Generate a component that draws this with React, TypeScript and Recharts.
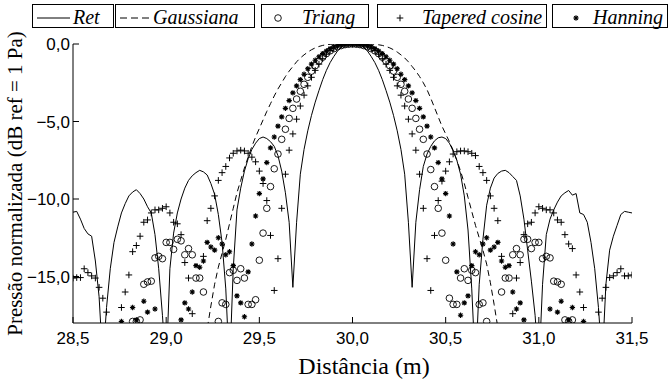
import React from 'react';
import { ComposedChart, Line, Scatter, XAxis, YAxis } from 'recharts';

// distância (m), passo de 0,02 m
const distance = [
  28.5, 28.52, 28.54, 28.56, 28.58, 28.6, 28.62, 28.64, 28.66, 28.68,
  28.7, 28.72, 28.74, 28.76, 28.78, 28.8, 28.82, 28.84, 28.86, 28.88,
  28.9, 28.92, 28.94, 28.96, 28.98, 29.0, 29.02, 29.04, 29.06, 29.08,
  29.1, 29.12, 29.14, 29.16, 29.18, 29.2, 29.22, 29.24, 29.26, 29.28,
  29.3, 29.32, 29.34, 29.36, 29.38, 29.4, 29.42, 29.44, 29.46, 29.48,
  29.5, 29.52, 29.54, 29.56, 29.58, 29.6, 29.62, 29.64, 29.66, 29.68,
  29.7, 29.72, 29.74, 29.76, 29.78, 29.8, 29.82, 29.84, 29.86, 29.88,
  29.9, 29.92, 29.94, 29.96, 29.98, 30.0, 30.02, 30.04, 30.06, 30.08,
  30.1, 30.12, 30.14, 30.16, 30.18, 30.2, 30.22, 30.24, 30.26, 30.28,
  30.3, 30.32, 30.34, 30.36, 30.38, 30.4, 30.42, 30.44, 30.46, 30.48,
  30.5, 30.52, 30.54, 30.56, 30.58, 30.6, 30.62, 30.64, 30.66, 30.68,
  30.7, 30.72, 30.74, 30.76, 30.78, 30.8, 30.82, 30.84, 30.86, 30.88,
  30.9, 30.92, 30.94, 30.96, 30.98, 31.0, 31.02, 31.04, 31.06, 31.08,
  31.1, 31.12, 31.14, 31.16, 31.18, 31.2, 31.22, 31.24, 31.26, 31.28,
  31.3, 31.32, 31.34, 31.36, 31.38, 31.4, 31.42, 31.44, 31.46, 31.48,
  31.5,
];

// pressão normalizada (dB) por janela
const ret = [
  -10.85, -10.8, -11.3, -11.9, -12.25, -12.4, -14.0, -16.3, -20.5, -17.0,
  -14.5, -12.8, -11.8, -10.9, -10.3, -9.8, -9.55, -9.4, -9.65, -10.0,
  -10.5, -10.9, -12.3, -14.5, -17.5, -21.0, -14.5, -12.2, -10.9, -10.0,
  -9.3, -8.8, -8.5, -8.3, -8.15, -8.25, -8.45, -9.0, -9.7, -11.0,
  -12.8, -15.8, -21.0, -14.5, -10.7, -9.3, -8.2, -7.4, -6.8, -6.4,
  -6.1, -6.0, -6.1, -6.3, -6.6, -7.2, -8.2, -9.6, -11.5, -15.7,
  -11.5, -8.4, -6.8, -5.6, -4.6, -3.75, -3.0, -2.3, -1.7, -1.2,
  -0.8, -0.45, -0.2, -0.08, -0.02, 0, -0.02, -0.08, -0.2, -0.45,
  -0.8, -1.2, -1.7, -2.3, -3.0, -3.75, -4.6, -5.6, -6.8, -8.4,
  -11.5, -15.7, -11.5, -9.4, -7.9, -7.1, -6.6, -6.25, -6.05, -6.0,
  -6.1, -6.4, -6.9, -7.5, -8.4, -9.8, -12.0, -15.8, -21.0, -15.5,
  -12.6, -10.4, -9.3, -8.65, -8.35, -8.2, -8.15, -8.3, -8.55, -8.8,
  -9.8, -11.3, -13.3, -15.3, -17.5, -21.0, -15.5, -12.3, -11.3, -10.7,
  -10.2, -9.8, -9.6, -9.45, -9.75, -9.65, -10.9, -11.0, -11.5, -12.8,
  -14.5, -17.0, -20.5, -15.5, -13.3, -12.4, -11.7, -11.0, -10.8, -10.85,
  -10.9,
];

const gaussiana = [
  null, null, null, null, null, null, null, null, null, null,
  null, null, null, null, null, null, null, null, null, null,
  null, null, null, null, null, null, null, null, null, null,
  null, null, null, null, -21.5, -19.8, -18.4, -16.9, -15.5, -14.4,
  -13.5, -12.6, -11.6, -10.6, -9.6, -8.8, -8.0, -7.3, -6.6, -6.0,
  -5.45, -4.9, -4.35, -3.85, -3.35, -2.9, -2.5, -2.1, -1.75, -1.45,
  -1.15, -0.9, -0.7, -0.52, -0.37, -0.25, -0.16, -0.09, -0.05, -0.02,
  -0.01, 0, 0, 0, 0, 0, 0, 0, 0, 0,
  -0.01, -0.02, -0.05, -0.09, -0.16, -0.25, -0.37, -0.52, -0.7, -0.9,
  -1.15, -1.45, -1.75, -2.1, -2.5, -2.95, -3.5, -4.1, -4.7, -5.3,
  -5.8, -6.3, -6.85, -7.5, -8.2, -9.0, -9.9, -10.8, -11.7, -12.5,
  -13.3, -14.2, -15.4, -16.8, -18.3, -19.8, -21.5, null, null, null,
  null, null, null, null, null, null, null, null, null, null,
  null, null, null, null, null, null, null, null, null, null,
  null, null, null, null, null, null, null, null, null, null,
  null,
];

const triang = [
  null, null, null, null, null, null, null, null, null, null,
  null, null, null, null, null, null, -17.9, -17.9, -17.8, -15.5,
  -15.35, -15.3, -13.8, -13.7, -13.85, -12.8, -12.8, -13.25, -12.6, -12.7,
  -13.6, -13.2, -13.6, -15.1, -15.1, -16.0, null, null, null, -17.9,
  -16.7, -16.8, -14.75, -14.6, -15.25, -14.5, -15.1, -16.8, -16.8, -16.5,
  -13.95, -12.2, -10.6, -9.2, -8.05, -7.1, -6.15, -5.5, -4.8, -4.15,
  -3.55, -3.05, -2.6, -2.15, -1.75, -1.4, -1.1, -0.85, -0.62, -0.44,
  -0.3, -0.18, -0.1, -0.04, -0.01, 0, -0.01, -0.04, -0.1, -0.18,
  -0.3, -0.44, -0.62, -0.85, -1.1, -1.4, -1.75, -2.15, -2.6, -3.05,
  -3.55, -4.15, -4.8, -5.5, -6.15, -7.1, -8.1, -9.2, -10.6, -12.2,
  -13.95, -16.4, -16.8, -16.8, -15.1, -14.5, -15.25, -14.6, -14.75, -16.8,
  -16.7, -17.9, null, null, null, -16.0, -15.1, -15.1, -13.6, -13.2,
  -13.6, -12.6, -12.6, -13.2, -12.8, -12.8, -13.85, -13.7, -13.8, -15.3,
  -15.35, -15.5, -17.8, -17.9, -17.8, null, null, null, null, null,
  null, null, null, null, null, null, null, null, null, null,
  null,
];

const tapered = [
  -15.1, -15.07, -15.07, -14.5, -14.75, -14.96, -15.1, -15.7, -16.4, -17.3,
  null, null, null, -17.0, -16.0, -14.9, -13.4, -13.0, -12.4, -11.5,
  -11.35, -10.9, -10.7, -10.7, -10.6, -10.5, -10.9, -11.5, -11.6, -12.3,
  -14.1, -15.1, -17.4, null, null, -13.7, -11.4, -10.6, -9.8, -8.8,
  -8.3, -7.9, -7.35, -7.05, -6.9, -6.85, -6.9, -7.05, -7.3, -7.6,
  -8.2, -9.0, -10.1, -12.35, -15.9, -13.85, -10.6, -8.4, -6.85, -5.8,
  -4.85, -4.0, -3.3, -2.7, -2.15, -1.7, -1.3, -0.95, -0.66, -0.42,
  -0.25, -0.13, -0.06, -0.02, 0, 0, 0, -0.02, -0.06, -0.13,
  -0.25, -0.42, -0.66, -0.95, -1.3, -1.7, -2.15, -2.7, -3.3, -4.0,
  -4.85, -5.8, -6.85, -8.4, -10.6, -13.85, -15.9, -12.35, -10.1, -8.85,
  -8.2, -7.6, -7.1, -6.95, -6.9, -6.9, -6.95, -7.05, -7.2, -7.9,
  -8.3, -8.8, -9.8, -10.6, -11.4, -13.7, null, null, -17.4, -15.1,
  -14.1, -12.3, -11.6, -11.5, -10.9, -10.5, -10.6, -10.7, -10.7, -10.9,
  -11.35, -11.5, -12.3, -12.9, -13.2, -14.9, -16.0, -17.0, null, null,
  null, -17.3, -16.4, -15.7, -15.07, -14.96, -14.75, -14.5, -14.96, -14.96,
  -14.9,
];

const hanning = [
  null, null, null, null, null, null, null, null, null, null,
  null, null, null, -17.9, null, null, -17.0, -17.8, null, -16.6,
  -17.3, null, -17.1, null, null, null, null, null, null, -17.8,
  -16.7, -17.1, -16.0, -14.3, -14.4, -14.0, -12.8, -13.1, -13.3, -12.5,
  -12.9, -13.6, -13.4, -14.3, -16.25, -16.7, -17.6, -14.7, -12.9, -11.1,
  -9.65, -8.7, -7.65, -6.7, -6.0, -5.3, -4.7, -4.15, -3.65, -3.15,
  -2.7, -2.3, -1.95, -1.6, -1.3, -1.05, -0.82, -0.62, -0.45, -0.3,
  -0.19, -0.1, -0.05, -0.02, 0, 0, 0, -0.02, -0.05, -0.1,
  -0.19, -0.3, -0.45, -0.62, -0.82, -1.05, -1.3, -1.6, -1.95, -2.3,
  -2.7, -3.15, -3.65, -4.15, -4.7, -5.3, -6.0, -6.7, -7.65, -8.7,
  -9.65, -11.1, -12.9, -14.7, -17.5, -16.7, -16.25, -14.3, -13.4, -13.6,
  -12.9, -12.5, -13.3, -13.1, -12.8, -14.0, -14.4, -14.3, -16.0, -17.1,
  -16.7, -17.8, null, null, null, null, null, null, -17.1, null,
  -17.3, -16.6, null, -17.8, -17.0, null, null, -17.9, null, null,
  null, null, null, null, null, null, null, null, null, null,
  null,
];

const xTicks = [28.5, 29, 29.5, 30, 30.5, 31, 31.5];
const yTicks = [0, -5, -10, -15];

const toPoints = (values: (number | null)[]) =>
  distance
    .map((x, i) => ({ x, y: values[i] }))
    .filter((p) => p.y !== null && p.y !== undefined);

const fmtX = (v: number) => v.toFixed(1).replace('.', ',');
const fmtY = (v: number) => (v < 0 ? '\u2212' : '') + Math.abs(v).toFixed(1).replace('.', ',');

const W = 672;
const H = 379;
const PLOT = { left: 73, right: 632, top: 44, bottom: 323 };

const tickFont = { fill: '#000', fontSize: 17, fontFamily: 'Liberation Sans, Arial, sans-serif' };
const serifStyle = { fontFamily: 'Liberation Serif, Times New Roman, serif' };

const CircleMark = (p: any) =>
  p.cx == null ? <g /> : <circle cx={p.cx} cy={p.cy} r={3.3} fill="none" stroke="#000" strokeWidth={0.9} />;

const PlusMark = (p: any) =>
  p.cx == null ? <g /> : (
    <path
      d={`M${p.cx - 3.3},${p.cy}H${p.cx + 3.3}M${p.cx},${p.cy - 3.3}V${p.cy + 3.3}`}
      stroke="#000"
      strokeWidth={1}
      fill="none"
    />
  );

const StarMark = (p: any) => {
  if (p.cx == null) return <g />;
  const a = 2.7;
  const d = 1.9;
  const { cx, cy } = p;
  return (
    <path
      d={`M${cx - a},${cy}H${cx + a}M${cx},${cy - a}V${cy + a}M${cx - d},${cy - d}L${cx + d},${cy + d}M${cx - d},${cy + d}L${cx + d},${cy - d}`}
      stroke="#000"
      strokeWidth={1.1}
      fill="none"
    />
  );
};

function LegendBar() {
  const y = 18;
  const base = 24;
  const box = (x0: number, x1: number) => (
    <rect x={x0 + 0.5} y={4.5} width={x1 - x0} height={23} fill="#fff" stroke="#000" strokeWidth={1} />
  );
  const txtStyle = { ...serifStyle, fontStyle: 'italic', fontSize: 20 };
  return (
    <svg width={W} height={34} style={{ position: 'absolute', left: 0, top: 0 }}>
      {box(32, 113)}
      <line x1={37} x2={70} y1={y} y2={y} stroke="#000" strokeWidth={1} />
      <text x={73} y={base} fill="#000" style={txtStyle}>Ret</text>

      {box(115, 254)}
      <line x1={120} x2={152} y1={y} y2={y} stroke="#000" strokeWidth={1} strokeDasharray="7 4" />
      <text x={153} y={base} fill="#000" style={txtStyle}>Gaussiana</text>

      {box(261, 368)}
      <CircleMark cx={278} cy={y} />
      <text x={302} y={base} fill="#000" style={txtStyle}>Triang</text>

      {box(377, 546)}
      <PlusMark cx={400} cy={y} />
      <text x={422} y={base} fill="#000" style={txtStyle}>Tapered cosine</text>

      {box(552, 667)}
      <StarMark cx={576} cy={y} />
      <text x={593} y={base} fill="#000" style={txtStyle}>Hanning</text>
    </svg>
  );
}

export default function App() {
  const retPts = toPoints(ret);
  const gaussPts = toPoints(gaussiana);
  const triangPts = toPoints(triang);
  const taperedPts = toPoints(tapered);
  const hanningPts = toPoints(hanning);

  return (
    <div style={{ position: 'absolute', left: 0, top: 0, width: W, height: H, background: '#fff' }}>
      <ComposedChart
        width={W}
        height={H}
        margin={{ top: PLOT.top, right: W - PLOT.right, bottom: H - PLOT.bottom - 30, left: PLOT.left - 60 }}
      >
        <XAxis
          dataKey="x"
          type="number"
          domain={[28.5, 31.5]}
          ticks={xTicks}
          allowDataOverflow
          tickFormatter={fmtX}
          height={30}
          tickSize={-6}
          tickMargin={15}
          tick={tickFont}
          axisLine={{ stroke: '#000', strokeWidth: 1 }}
          tickLine={{ stroke: '#000', strokeWidth: 1 }}
          label={() => (
            <text x={364} y={374} textAnchor="middle" fill="#000" style={{ ...serifStyle, fontSize: 24 }}>
              Distância (m)
            </text>
          )}
        />
        <XAxis
          xAxisId="top"
          orientation="top"
          type="number"
          domain={[28.5, 31.5]}
          ticks={xTicks}
          allowDataOverflow
          height={0}
          tickSize={-6}
          tick={false}
          axisLine={{ stroke: '#000', strokeWidth: 1 }}
          tickLine={{ stroke: '#000', strokeWidth: 1 }}
        />
        <YAxis
          type="number"
          domain={[-18, 0]}
          ticks={yTicks}
          allowDataOverflow
          tickFormatter={fmtY}
          width={60}
          tickSize={-6}
          tickMargin={9}
          tick={tickFont}
          axisLine={{ stroke: '#000', strokeWidth: 1 }}
          tickLine={{ stroke: '#000', strokeWidth: 1 }}
          label={() => (
            <text
              transform={`translate(22, ${(PLOT.top + PLOT.bottom) / 2}) rotate(-90)`}
              textAnchor="middle"
              fill="#000"
              style={{ ...serifStyle, fontSize: 21 }}
            >
              Pressão normalizada (dB ref = 1 Pa)
            </text>
          )}
        />
        <YAxis
          yAxisId="right"
          orientation="right"
          type="number"
          domain={[-18, 0]}
          ticks={yTicks}
          allowDataOverflow
          width={0}
          tickSize={-6}
          tick={false}
          axisLine={{ stroke: '#000', strokeWidth: 1 }}
          tickLine={{ stroke: '#000', strokeWidth: 1 }}
        />

        <Line
          data={retPts}
          dataKey="y"
          stroke="#000"
          strokeWidth={1}
          dot={false}
          activeDot={false}
          isAnimationActive={false}
        />
        <Line
          data={gaussPts}
          dataKey="y"
          stroke="#000"
          strokeWidth={1}
          strokeDasharray="6 4"
          dot={false}
          activeDot={false}
          isAnimationActive={false}
        />
        <Scatter data={triangPts} dataKey="y" shape={CircleMark} isAnimationActive={false} />
        <Scatter data={taperedPts} dataKey="y" shape={PlusMark} isAnimationActive={false} />
        <Scatter data={hanningPts} dataKey="y" shape={StarMark} isAnimationActive={false} />
      </ComposedChart>
      <LegendBar />
    </div>
  );
}
